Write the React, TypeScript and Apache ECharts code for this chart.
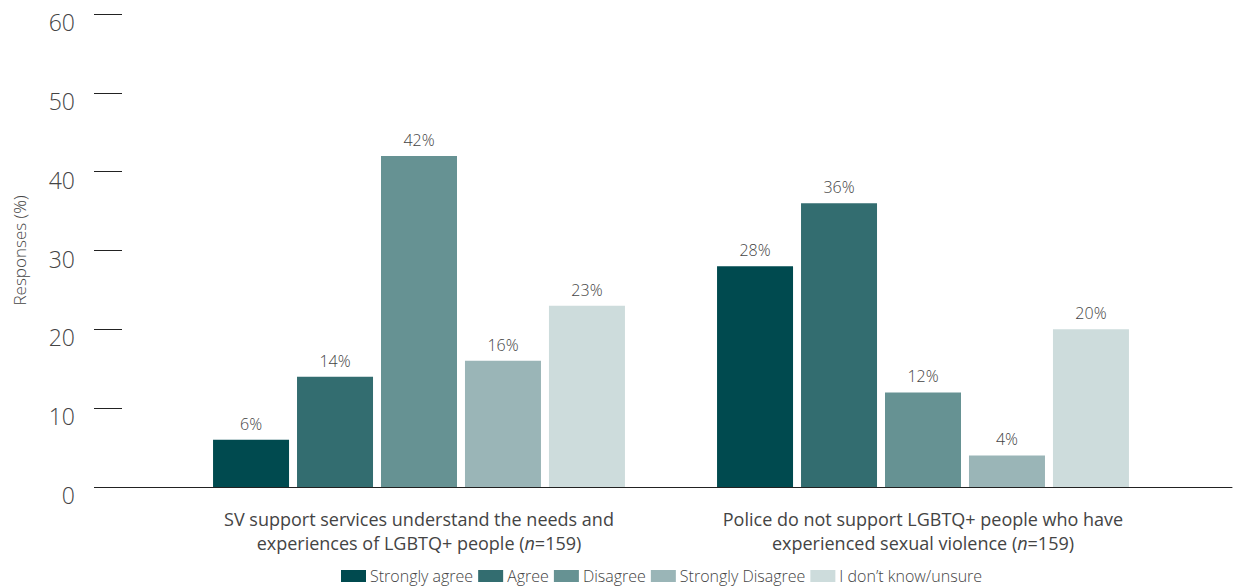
import React, { useEffect, useRef } from "react";
import * as echarts from "echarts";

const categories = [
  "SV support services understand the needs and\nexperiences of LGBTQ+ people ({i|n}=159)",
  "Police do not support LGBTQ+ people who have\nexperienced sexual violence ({i|n}=159)",
];
const seriesNames = ["Strongly agree", "Agree", "Disagree", "Strongly Disagree", "I don\u2019t know/unsure"];
const stronglyAgree = [6, 28];
const agree = [14, 36];
const disagree = [42, 12];
const stronglyDisagree = [16, 4];
const unsure = [23, 20];
const yTicks = [0, 10, 20, 30, 40, 50, 60];
const colors = ["#004a4f", "#336d70", "#669293", "#9ab5b7", "#cddcdc"];

const FONT = "'Open Sans', Lato, sans-serif";

export default function App() {
  const ref = useRef<HTMLDivElement>(null);
  useEffect(() => {
    if (!ref.current) return;
    const chart = echarts.init(ref.current, undefined, { renderer: "svg" });
    const values = [stronglyAgree, agree, disagree, stronglyDisagree, unsure];
    chart.setOption({
      animation: false,
      textStyle: { fontFamily: FONT },
      grid: [
        { left: 167, right: 72, top: 14, bottom: 100 },
        { left: 122, right: 15, top: 14, bottom: 100 },
      ],
      legend: {
        left: 336,
        top: 563,
        itemWidth: 25,
        itemHeight: 12,
        itemGap: 5,
        icon: "rect",
        textStyle: { fontSize: 16, color: "#444", fontFamily: FONT, fontWeight: 300, padding: [0, 0, 0, -1] },
        data: seriesNames,
      },
      xAxis: [
        {
          type: "category",
          gridIndex: 0,
          data: categories,
          axisLine: { show: false },
          axisTick: { show: false },
          axisLabel: {
            interval: 0,
            hideOverlap: false,
            margin: 20,
            fontSize: 18,
            color: "#444",
            lineHeight: 24,
            fontFamily: FONT,
            rich: { i: { fontStyle: "italic", fontSize: 18, color: "#444", fontFamily: FONT } },
          },
        },
        {
          type: "category",
          gridIndex: 1,
          data: [""],
          axisLine: { show: true, lineStyle: { color: "#222", width: 1 } },
          axisTick: { show: false },
          axisLabel: { show: false },
        },
      ],
      yAxis: [
        {
          type: "value",
          gridIndex: 0,
          min: 0,
          max: 60,
          interval: 10,
          show: false,
          splitLine: { show: false },
        },
        {
          type: "value",
          gridIndex: 1,
          min: yTicks[0],
          max: yTicks[yTicks.length - 1],
          interval: 10,
          axisLine: { show: false },
          axisTick: { show: true, length: 28, lineStyle: { color: "#222", width: 1 } },
          splitLine: { show: false },
          axisLabel: {
            margin: 47,
            fontSize: 23,
            color: "#444",
            fontWeight: 300,
            fontFamily: FONT,
            verticalAlign: "top",
            lineHeight: 16,
          },
          name: "Responses (%)",
          nameLocation: "middle",
          nameGap: 94,
          nameTextStyle: { fontSize: 17, color: "#444", fontWeight: 300, fontFamily: FONT },
        },
      ],
      series: seriesNames.map((name, i) => ({
        name,
        type: "bar",
        xAxisIndex: 0,
        yAxisIndex: 0,
        data: values[i],
        barWidth: 76,
        barGap: "10.5%",
        itemStyle: { color: colors[i] },
        label: {
          show: true,
          position: "top",
          distance: 8,
          formatter: "{c}%",
          fontSize: 16,
          color: "#444",
          fontWeight: 300,
          fontFamily: FONT,
        },
      })),
    });
    return () => chart.dispose();
  }, []);
  return (
    <div
      ref={ref}
      style={{ position: "absolute", left: 0, top: 0, width: 1247, height: 587 }}
    />
  );
}
